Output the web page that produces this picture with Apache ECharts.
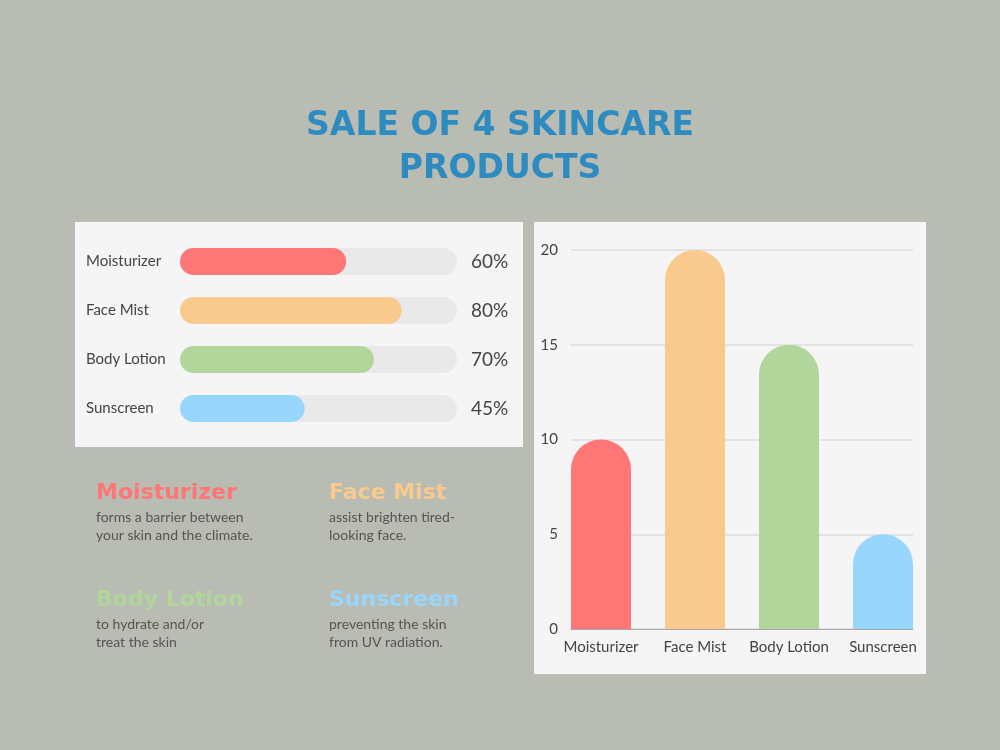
<!DOCTYPE html>
<html>
<head>
<meta charset="utf-8">
<title>Sale of 4 Skincare Products</title>
<script src="https://cdn.jsdelivr.net/npm/echarts@6.0.0/dist/echarts.min.js"></script>
<style>
  html, body { margin: 0; padding: 0; background: #b9bcb2; }
  #chart { width: 1000px; height: 750px; }
</style>
</head>
<body>
<div id="chart"></div>
<script>
var products = ["Moisturizer", "Face Mist", "Body Lotion", "Sunscreen"];
var sharePct = [60, 80, 70, 45];
var sales = [10, 20, 15, 5];
var yTicks = [0, 5, 10, 15, 20];
var colors = ["#ff7676", "#f8ca8e", "#b0d69c", "#98d6fe"];
var notes = [
    "forms a barrier between\nyour skin and the climate.",
    "assist brighten tired-\nlooking face.",
    "to hydrate and/or\ntreat the skin",
    "preventing the skin\nfrom UV radiation."
];

var chart = echarts.init(document.getElementById("chart"));
var labelFont = "Lato, 'Noto Sans', sans-serif";
var heavyFont = "'DejaVu Sans', sans-serif";

// description blocks under the left panel
var noteGraphics = [];
products.forEach(function (name, i) {
    var x = i % 2 === 0 ? 96 : 329;
    var y = i < 2 ? 482 : 589;
    noteGraphics.push({
        type: "text", left: x, top: y,
        style: { text: name, fill: colors[i], font: "bold 22px " + heavyFont }
    });
    noteGraphics.push({
        type: "text", left: x, top: y + 26,
        style: { text: notes[i], fill: "#555", font: "14px " + labelFont, lineHeight: 18 }
    });
});

var option = {
    backgroundColor: "#b9bcb2",
    title: {
        text: "SALE OF 4 SKINCARE\nPRODUCTS",
        left: "center",
        top: 100,
        textStyle: {
            color: "#2e8bc0",
            fontFamily: heavyFont,
            fontWeight: "bold",
            fontSize: 33,
            lineHeight: 43
        }
    },
    graphic: [
        { type: "rect", left: 75, top: 222, z: -1,
          shape: { width: 448, height: 225 }, style: { fill: "#f5f5f5" } },
        { type: "rect", left: 534, top: 222, z: -1,
          shape: { width: 392, height: 452 }, style: { fill: "#f5f5f5" } }
    ].concat(noteGraphics),
    grid: [
        { left: 180, right: 543, top: 237, height: 196 },
        { left: 571, right: 87, top: 250, bottom: 121 },
        { left: 554, right: 70, top: 250, bottom: 121 }
    ],
    xAxis: [
        { gridIndex: 0, type: "value", min: 0, max: 100, show: false },
        { gridIndex: 1, type: "category", data: products,
          axisLine: { lineStyle: { color: "#a8a8a8" } },
          axisTick: { show: false }, axisLabel: { show: false } },
        { gridIndex: 2, type: "category", data: products,
          axisLine: { show: false }, axisTick: { show: false },
          axisLabel: { interval: 0, color: "#444", fontFamily: labelFont, fontSize: 15, margin: 11 } }
    ],
    yAxis: [
        { gridIndex: 0, type: "category", data: products, inverse: true,
          axisLine: { show: false }, axisTick: { show: false },
          axisLabel: { color: "#444", fontFamily: labelFont, fontSize: 15, align: "left", margin: 94 } },
        { gridIndex: 0, type: "category", data: products, inverse: true, position: "right",
          axisLine: { show: false }, axisTick: { show: false },
          axisLabel: {
              color: "#444", fontFamily: labelFont, fontSize: 19, align: "left", margin: 14,
              formatter: function (v, idx) { return sharePct[idx] + "%"; }
          } },
        { gridIndex: 1, type: "value", min: yTicks[0], max: yTicks[yTicks.length - 1], interval: 5,
          axisLine: { show: false }, axisTick: { show: false },
          splitLine: { lineStyle: { color: "#dcdcdc", width: 1.5 } },
          axisLabel: { color: "#444", fontFamily: labelFont, fontSize: 15, margin: 13 } },
        { gridIndex: 2, type: "value", min: 0, max: 20, show: false }
    ],
    series: [
        {
            type: "bar", xAxisIndex: 0, yAxisIndex: 0,
            barWidth: 27,
            showBackground: true,
            backgroundStyle: { color: "#e9e9e9", borderRadius: 14 },
            itemStyle: { borderRadius: 14 },
            data: sharePct.map(function (v, i) {
                return { value: v, itemStyle: { color: colors[i] } };
            })
        },
        {
            type: "bar", xAxisIndex: 2, yAxisIndex: 3,
            barWidth: 60,
            itemStyle: { borderRadius: [30, 30, 0, 0] },
            data: sales.map(function (v, i) {
                return { value: v, itemStyle: { color: colors[i] } };
            })
        }
    ]
};

chart.setOption(option);
window.addEventListener("resize", chart.resize);
</script>
</body>
</html>
